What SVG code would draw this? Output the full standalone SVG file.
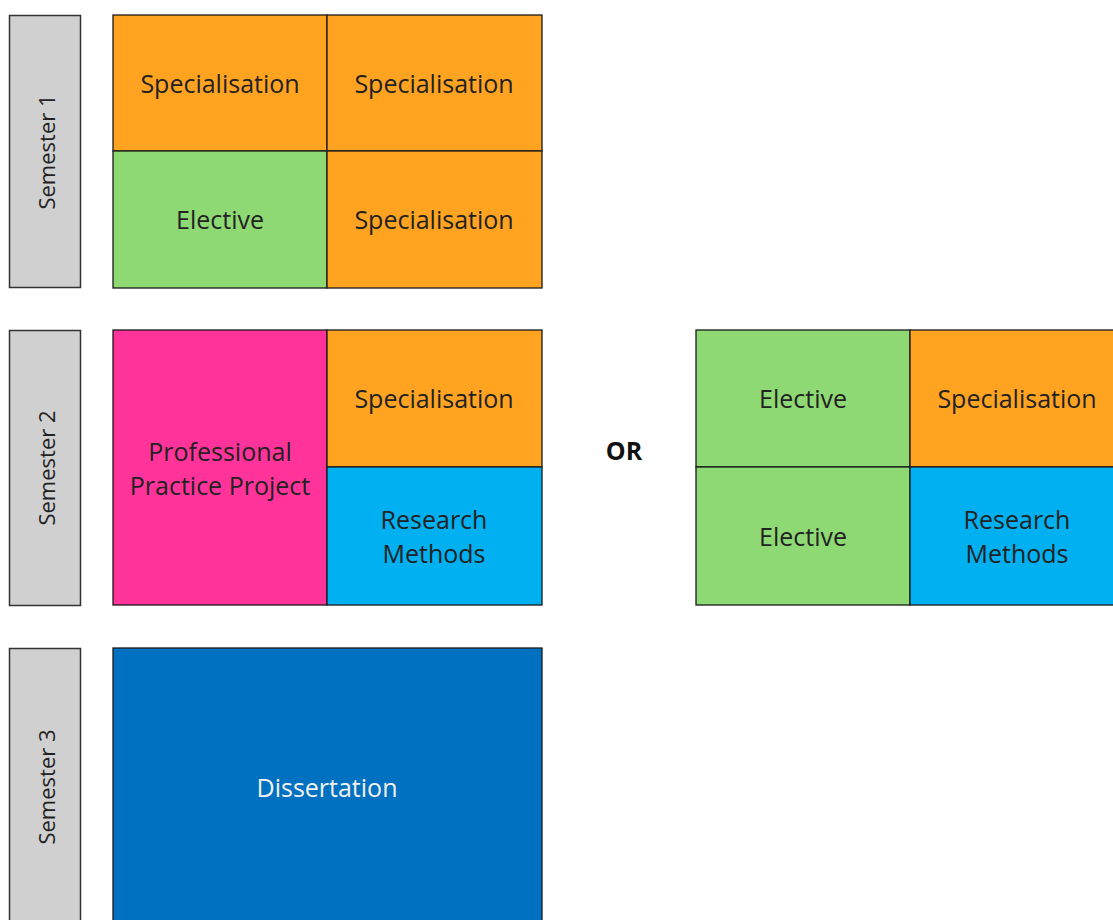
<svg xmlns="http://www.w3.org/2000/svg" width="1113" height="920" viewBox="0 0 1113 920">
<style>
.c{stroke:#1a1a1a;stroke-width:1.3}
.sem{fill:#d0d0d0;stroke:#333;stroke-width:1.5}
.or{fill:#ffa321}.gr{fill:#8ed973}.pk{fill:#ff3399}.bl{fill:#00b0f0}.db{fill:#0070c0}
text{font-family:"Open Sans","Noto Sans","DejaVu Sans",sans-serif;font-size:25px;fill:#222;text-anchor:middle;dominant-baseline:central}
.s{font-size:22px}
.w{fill:#f2f2f2}
.b{font-weight:bold;fill:#111}
</style>
<rect width="1113" height="920" fill="#fff"/>
<g id="sem1"><rect class="sem" x="9.5" y="15.5" width="71" height="272"/><text class="s" transform="translate(46,152) rotate(-90)">Semester 1</text></g>
<g id="sem2"><rect class="sem" x="9.5" y="330.5" width="71" height="275"/><text class="s" transform="translate(46,468) rotate(-90)">Semester 2</text></g>
<g id="sem3"><rect class="sem" x="9.5" y="648.5" width="71" height="290"/><text class="s" transform="translate(46,787) rotate(-90)">Semester 3</text></g>

<g id="s1a"><rect class="c or" x="113" y="15" width="214" height="136"/><text x="220" y="83">Specialisation</text></g>
<g id="s1b"><rect class="c or" x="327" y="15" width="215" height="136"/><text x="434" y="83">Specialisation</text></g>
<g id="s1c"><rect class="c gr" x="113" y="151" width="214" height="137"/><text x="220" y="219">Elective</text></g>
<g id="s1d"><rect class="c or" x="327" y="151" width="215" height="137"/><text x="434" y="219">Specialisation</text></g>

<g id="ppp"><rect class="c pk" x="113" y="330" width="214" height="275"/><text x="220" y="451">Professional</text><text x="220" y="485">Practice Project</text></g>
<g id="s2b"><rect class="c or" x="327" y="330" width="215" height="137"/><text x="434" y="398">Specialisation</text></g>
<g id="s2c"><rect class="c bl" x="327" y="467" width="215" height="138"/><text x="434" y="519">Research</text><text x="434" y="553">Methods</text></g>

<g id="or"><text class="b" x="624" y="450">OR</text></g>

<g id="a2a"><rect class="c gr" x="696" y="330" width="214" height="137"/><text x="803" y="398">Elective</text></g>
<g id="a2b"><rect class="c or" x="910" y="330" width="215" height="137"/><text x="1017" y="398">Specialisation</text></g>
<g id="a2c"><rect class="c gr" x="696" y="467" width="214" height="138"/><text x="803" y="536">Elective</text></g>
<g id="a2d"><rect class="c bl" x="910" y="467" width="215" height="138"/><text x="1017" y="519">Research</text><text x="1017" y="553">Methods</text></g>

<g id="diss"><rect class="c db" x="113" y="648" width="429" height="290"/><text class="w" x="327" y="787">Dissertation</text></g>
<g id="connectors"></g>
</svg>
